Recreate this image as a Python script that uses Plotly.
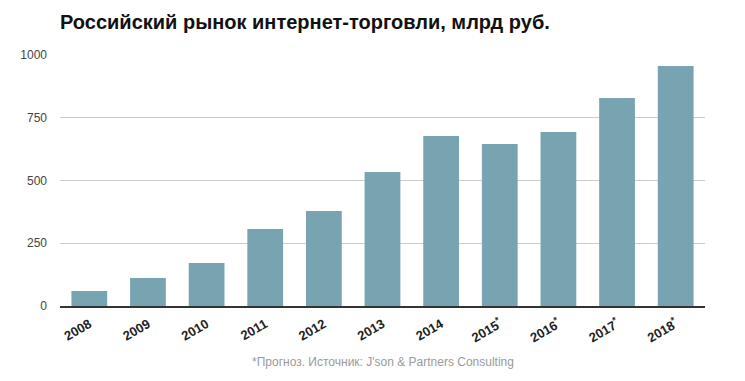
import plotly.graph_objects as go

years = ["2008", "2009", "2010", "2011", "2012", "2013", "2014",
         "2015<sup>*</sup>", "2016<sup>*</sup>", "2017<sup>*</sup>", "2018<sup>*</sup>"]
values = [60, 112, 171, 307, 378, 534, 677, 645, 693, 829, 956]
y_ticks = [0, 250, 500, 750, 1000]

# page has an 8px body margin; positions below compensate
OFF = 8
plot_top, plot_bottom, plot_left, plot_right = 55, 306, 58, 705

fig = go.Figure(go.Bar(x=years, y=values, marker=dict(color="#77a4b0", line=dict(width=0))))

fig.update_layout(
    width=745, height=381,
    margin=dict(l=plot_left - OFF, r=745 + OFF - plot_right, t=plot_top - OFF, b=381 + OFF - plot_bottom),
    paper_bgcolor="white", plot_bgcolor="white",
    bargap=0.39,
    font=dict(family="Liberation Sans, Arial, sans-serif"),
    title=dict(text="<b>Российский рынок интернет-торговли, млрд руб.</b>",
               x=(60 - OFF) / 745, xanchor="left", y=1 - (22 - OFF) / 381, yanchor="middle",
               font=dict(size=20, color="#111111")),
    showlegend=False,
    annotations=[dict(text="*Прогноз. Источник: J'son & Partners Consulting",
                      x=0.5, xref="paper", xanchor="center",
                      y=-(362 - plot_bottom) / (plot_bottom - plot_top), yref="paper",
                      yanchor="middle", showarrow=False,
                      font=dict(size=12, color="#9a9a9a"))],
)

fig.update_yaxes(range=[0, 1000], tickvals=y_ticks, showgrid=True, gridcolor="#cccccc",
                 gridwidth=1, zeroline=False, showline=False,
                 tickfont=dict(size=12, color="#444444"), ticklabelstandoff=12)
fig.update_xaxes(showline=True, linecolor="#333333", linewidth=1.5, tickangle=-30,
                 tickfont=dict(size=13, color="#222222", family="Liberation Sans, Arial, sans-serif", weight="bold"),
                 ticks="", ticklabelstandoff=4)

fig.write_html("out.html")
